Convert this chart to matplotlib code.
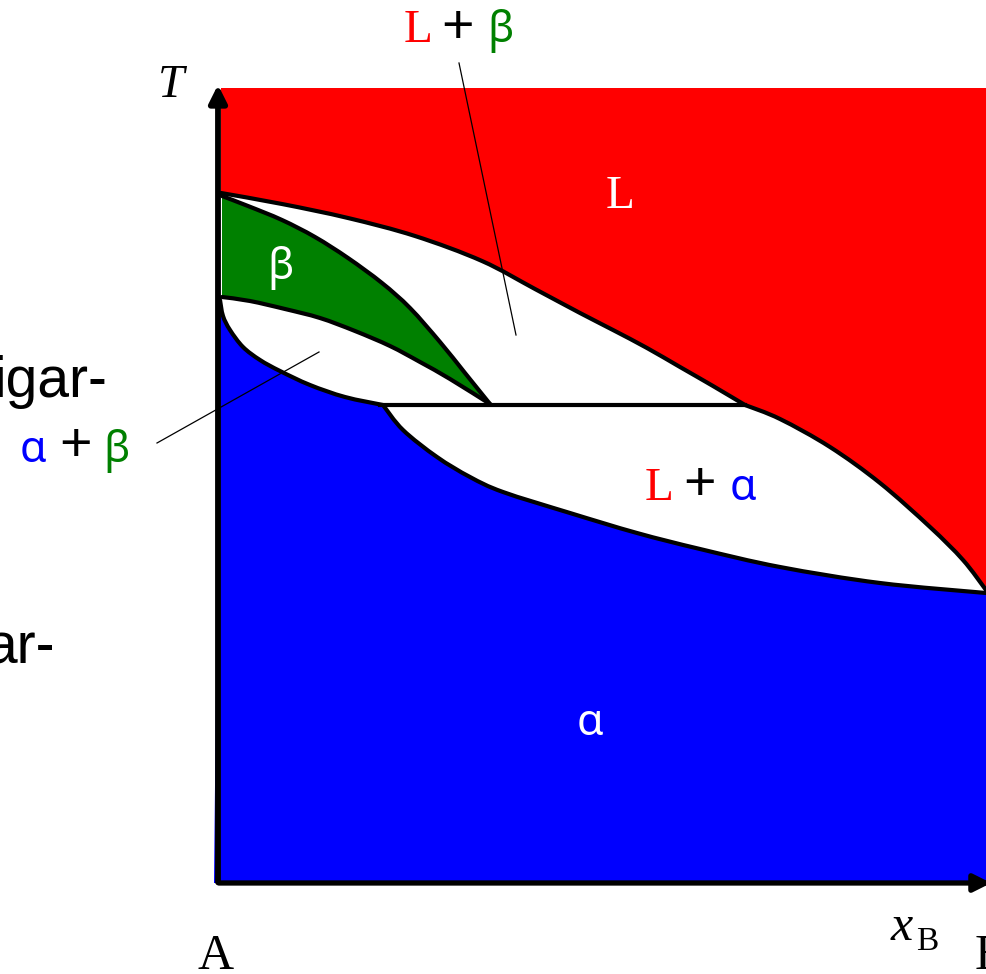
import numpy as np
import matplotlib.pyplot as plt
from matplotlib.path import Path
from matplotlib.patches import PathPatch

# Grenzlinien (Pixelkoordinaten)
liq_oben_x = [221, 282, 348, 415, 482, 535, 580, 613, 647, 680, 713, 745]
liq_oben_y = [193, 204, 218, 236, 261, 289, 313, 330, 348, 367, 386, 405]
liq_unten_x = [745, 780, 830, 880, 930, 963, 986]
liq_unten_y = [405, 419, 447, 483, 527, 560, 590]

beta_oben_x = [222, 248, 282, 315, 348, 382, 410, 440, 465, 490]
beta_oben_y = [196, 206, 220, 237, 258, 283, 308, 342, 373, 404]
beta_unten_x = [222, 250, 285, 320, 355, 390, 420, 450, 490]
beta_unten_y = [297, 301, 309, 318, 331, 346, 362, 379, 404]

alpha_solvus_x = [220, 223, 230, 243, 260, 280, 310, 345, 383]
alpha_solvus_y = [300, 316, 330, 347, 360, 371, 385, 397, 405]
alpha_solidus_x = [383, 403, 437, 470, 503, 570, 637, 700, 780, 880, 986]
alpha_solidus_y = [405, 430, 457, 477, 492, 513, 533, 549, 567, 583, 593]

peritektikum_x = [380, 745]
peritektikum_y = [405, 405]

rot = '#ff0000'
gruen = '#008000'
blau = '#0000ff'


# glatte Kurve durch die Punkte als Bezier-Segmente (Catmull-Rom)
def bezier(xs, ys):
    p = np.column_stack([xs, ys]).astype(float)
    n = len(p)
    verts = []
    for i in range(n - 1):
        p0 = p[max(i - 1, 0)]
        p1 = p[i]
        p2 = p[i + 1]
        p3 = p[min(i + 2, n - 1)]
        verts += [p1 + (p2 - p0) / 6, p2 - (p3 - p1) / 6, p2]
    return verts


def pfad(stuecke, schliessen=False):
    # stuecke: Liste von ('kurve', xs, ys) oder ('linie', xs, ys)
    verts = []
    codes = []
    for art, xs, ys in stuecke:
        if not verts:
            verts.append((xs[0], ys[0]))
            codes.append(Path.MOVETO)
        if art == 'kurve':
            v = bezier(xs, ys)
            verts += [tuple(a) for a in v]
            codes += [Path.CURVE4] * len(v)
        else:
            for x, y in zip(xs[1:], ys[1:]):
                verts.append((x, y))
                codes.append(Path.LINETO)
    if schliessen:
        verts.append(verts[0])
        codes.append(Path.CLOSEPOLY)
    return Path(verts, codes)


fig = plt.figure(figsize=(9.86, 9.74), dpi=100)
ax = fig.add_axes([0, 0, 1, 1])
ax.set_xlim(0, 986)
ax.set_ylim(974, 0)
ax.axis('off')

# Flaechen
rot_pfad = pfad([('linie', [221, 986, 986], [88, 88, 590]),
                 ('kurve', liq_unten_x[::-1], liq_unten_y[::-1]),
                 ('kurve', liq_oben_x[::-1], liq_oben_y[::-1])], True)
ax.add_patch(PathPatch(rot_pfad, fc=rot, lw=0))

gruen_pfad = pfad([('kurve', beta_oben_x, beta_oben_y),
                   ('kurve', beta_unten_x[::-1], beta_unten_y[::-1])], True)
ax.add_patch(PathPatch(gruen_pfad, fc=gruen, lw=0))

blau_pfad = pfad([('linie', [214, 220], [883, 300]),
                  ('kurve', alpha_solvus_x, alpha_solvus_y),
                  ('kurve', alpha_solidus_x, alpha_solidus_y),
                  ('linie', [986, 986, 214], [593, 883, 883])], True)
ax.add_patch(PathPatch(blau_pfad, fc=blau, lw=0))

# Linien
lw = 3
for xs, ys in [(liq_oben_x, liq_oben_y), (liq_unten_x, liq_unten_y),
               (beta_oben_x, beta_oben_y), (beta_unten_x, beta_unten_y),
               (alpha_solvus_x, alpha_solvus_y), (alpha_solidus_x, alpha_solidus_y)]:
    ax.add_patch(PathPatch(pfad([('kurve', xs, ys)]), fc='none', ec='black', lw=lw,
                           capstyle='round', joinstyle='round'))
ax.plot(peritektikum_x, peritektikum_y, color='black', lw=lw)

# Achsen mit Pfeilen
ax.annotate('', xy=(218, 82), xytext=(218, 885), annotation_clip=False,
            arrowprops=dict(arrowstyle='-|>', lw=4.2, color='black', mutation_scale=26))
ax.annotate('', xy=(994, 883), xytext=(216, 883), annotation_clip=False,
            arrowprops=dict(arrowstyle='-|>', lw=3.8, color='black', mutation_scale=26))

# Hinweislinien
ax.plot([459, 516], [63, 335], color='black', lw=0.9)
ax.plot([157, 319], [443, 352], color='black', lw=0.9)

serif = 'Liberation Serif'
sans = 'Noto Sans'
fs_l = 34
fs_g = 31


def txt(x, y, s, c, fam, fs=None, **kw):
    ax.text(x, y, s, color=c, family=fam, fontsize=fs or fs_g, ha='center', va='baseline', **kw)


def plus(x, y):
    ax.text(x, y, '+', color='black', family='Liberation Sans', fontsize=40,
            ha='center', va='center')


# L + beta oben
txt(418, 42, 'L', rot, serif, fs_l)
plus(458, 29)
txt(501, 42, 'β', gruen, sans)

# L + alpha
txt(659, 500, 'L', rot, serif, fs_l)
plus(700, 486)
txt(743, 500, 'α', blau, sans)

# alpha + beta
txt(33, 462, 'α', blau, sans)
plus(75, 447)
txt(117, 462, 'β', gruen, sans)

# Einphasengebiete
txt(620, 208, 'L', 'white', serif, fs_l)
txt(281, 279, 'β', 'white', sans)
txt(590, 735, 'α', 'white', sans)

# Achsenbeschriftung
ax.text(171, 97, 'T', family=serif, style='italic', fontsize=34, ha='center', va='baseline')
ax.text(902, 940, 'x', family=serif, style='italic', fontsize=36, ha='center', va='baseline')
ax.text(927, 950, 'B', family=serif, fontsize=24, ha='center', va='baseline')
ax.text(216, 969, 'A', family=serif, fontsize=36, ha='center', va='baseline')
ax.text(975, 969, 'B', family=serif, fontsize=36, ha='left', va='baseline')

# abgeschnittener Text links
ax.text(107, 397, 'igar-', family='Liberation Sans', fontsize=41, ha='right', va='baseline')
ax.text(55, 663, 'ar-', family='Liberation Sans', fontsize=41, ha='right', va='baseline')

fig.savefig('out.png', dpi=100)
